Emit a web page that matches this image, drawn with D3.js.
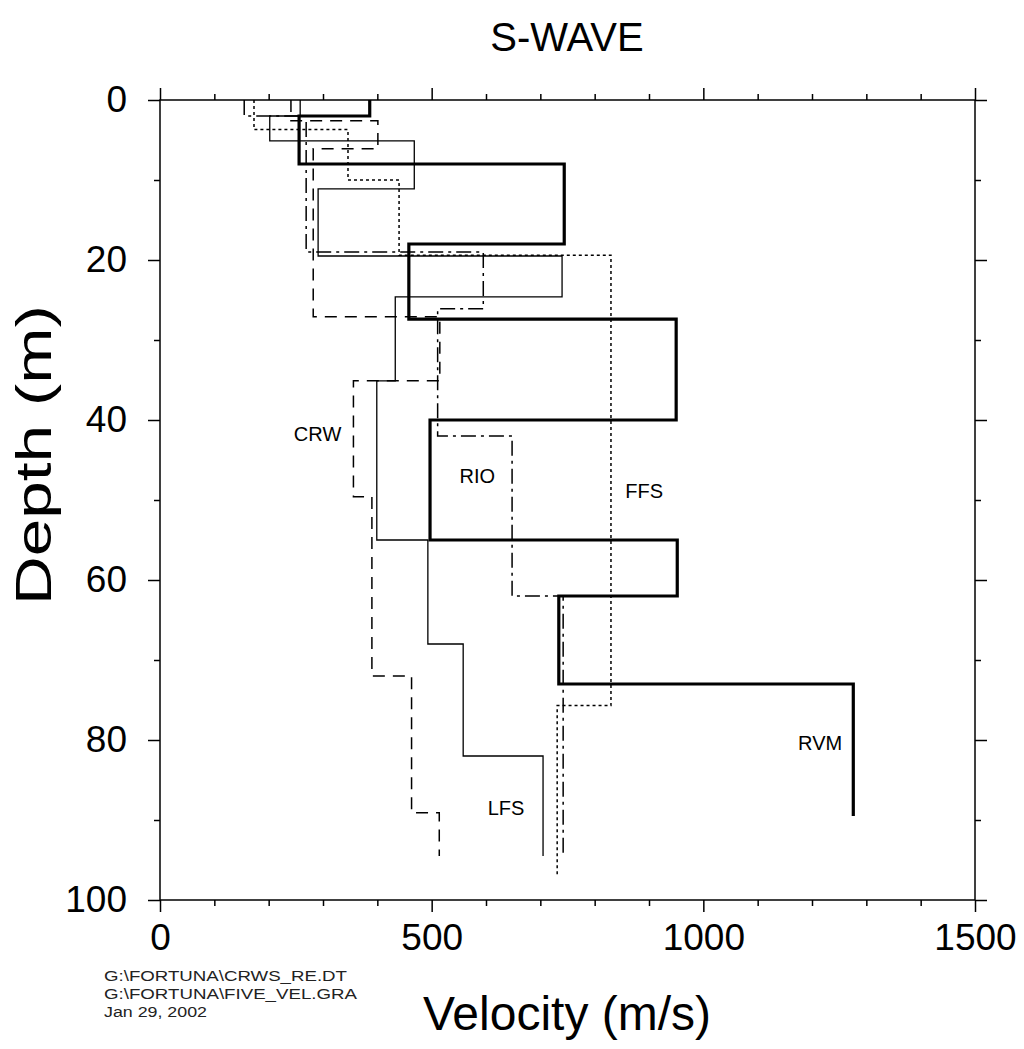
<!DOCTYPE html>
<html>
<head>
<meta charset="utf-8">
<script src="https://cdn.jsdelivr.net/npm/d3@7"></script>
<style>
  html, body { margin: 0; padding: 0; background: #fff; }
  svg { display: block; font-family: "Liberation Sans", Arial, Helvetica, sans-serif; }
</style>
</head>
<body>
<svg id="chart" width="1024" height="1049"></svg>
<script>
// ---- Data (velocity in m/s for each layer; layer boundaries in m) ----
const rvmVel    = [386, 256, 744, 458, 950, 497, 952, 734, 1276];
const rvmDepth  = [0, 2, 8, 18, 27.4, 40, 55, 62, 73, 89.5];

const lfsVel    = [258, 202, 468, 291, 740, 433, 399, 493, 558, 705];
const lfsDepth  = [0, 2, 5.1, 11.1, 19.5, 24.6, 35.1, 55, 68, 82, 94.5];

const ffsVel    = [173, 346, 440, 830, 731];
const ffsDepth  = [0, 3.7, 10, 19.4, 75.7, 97];

const rioVel    = [155, 269, 595, 511, 648, 742];
const rioDepth  = [0, 2, 19, 26.1, 42, 62, 94.5];

const crwVel    = [241, 401, 282, 515, 356, 390, 463, 514];
const crwDepth  = [0, 2.6, 6.1, 27.1, 35.1, 49.6, 72, 89.1, 94.5];

const seriesNames = ["RVM", "LFS", "FFS", "RIO", "CRW"];
const xTickMajor = [0, 500, 1000, 1500];
const yTickMajor = [0, 20, 40, 60, 80, 100];
const footnotes = ["G:\\FORTUNA\\CRWS_RE.DT", "G:\\FORTUNA\\FIVE_VEL.GRA", "Jan 29, 2002"];
const footnoteWidths = [243, 253, 103];

// label anchor positions in data units (velocity, depth)
const labelVel   = [1215, 637, 891, 584, 290];
const labelDepth = [81.25, 89.4, 49.75, 47.9, 42.6];

// ---- Layout ----
const svg = d3.select("#chart");
const x = d3.scaleLinear().domain([0, 1500]).range([160, 975]);
const y = d3.scaleLinear().domain([0, 100]).range([100, 900]);

const styles = {
  RVM: { w: 3.2, dash: null },
  LFS: { w: 1.3, dash: null },
  FFS: { w: 1.5, dash: "3,3" },
  RIO: { w: 1.5, dash: "15,5,3,5" },
  CRW: { w: 1.5, dash: "12,8" }
};

const seriesData = {
  RVM: [rvmVel, rvmDepth],
  LFS: [lfsVel, lfsDepth],
  FFS: [ffsVel, ffsDepth],
  RIO: [rioVel, rioDepth],
  CRW: [crwVel, crwDepth]
};

function stepPoints(vel, dep) {
  const pts = [];
  vel.forEach((v, i) => { pts.push([v, dep[i]]); pts.push([v, dep[i + 1]]); });
  return pts;
}

const line = d3.line().x(d => x(d[0])).y(d => y(d[1]));

// ---- Axes ----
const xMinor = d3.range(0, 1501, 100).filter(v => v % 500 !== 0);
const yMinor = d3.range(0, 101, 10).filter(v => v % 20 !== 0);

function styleAxis(g) {
  g.select(".domain").remove();
  g.selectAll("line").attr("stroke", "#000").attr("stroke-width", 1.5);
}

// bottom
svg.append("g").attr("transform", "translate(0,900)")
  .call(d3.axisBottom(x).tickValues(xMinor).tickSize(6).tickFormat(""))
  .call(styleAxis);
const bx = svg.append("g").attr("transform", "translate(0,900)")
  .call(d3.axisBottom(x).tickValues(xTickMajor).tickSize(12).tickPadding(12).tickFormat(d3.format("d")))
  .call(styleAxis);
bx.selectAll("text").attr("font-size", 37).attr("fill", "#000")
  .attr("font-family", "Liberation Sans, Arial, sans-serif");

// top
svg.append("g").attr("transform", "translate(0,100)")
  .call(d3.axisTop(x).tickValues(xMinor).tickSize(6).tickFormat(""))
  .call(styleAxis);
svg.append("g").attr("transform", "translate(0,100)")
  .call(d3.axisTop(x).tickValues(xTickMajor).tickSize(12).tickFormat(""))
  .call(styleAxis);

// left
svg.append("g").attr("transform", "translate(160,0)")
  .call(d3.axisLeft(y).tickValues(yMinor).tickSize(6).tickFormat(""))
  .call(styleAxis);
const ly = svg.append("g").attr("transform", "translate(160,0)")
  .call(d3.axisLeft(y).tickValues(yTickMajor).tickSize(12).tickPadding(21).tickFormat(d3.format("d")))
  .call(styleAxis);
ly.selectAll("text").attr("font-size", 37).attr("fill", "#000")
  .attr("font-family", "Liberation Sans, Arial, sans-serif");

// right
svg.append("g").attr("transform", "translate(975,0)")
  .call(d3.axisRight(y).tickValues(yMinor).tickSize(6).tickFormat(""))
  .call(styleAxis);
svg.append("g").attr("transform", "translate(975,0)")
  .call(d3.axisRight(y).tickValues(yTickMajor).tickSize(12).tickFormat(""))
  .call(styleAxis);

// frame
svg.append("rect")
  .attr("x", x(0)).attr("y", y(0))
  .attr("width", x(1500) - x(0)).attr("height", y(100) - y(0))
  .attr("fill", "none").attr("stroke", "#000").attr("stroke-width", 1.5);

// ---- Series ----
seriesNames.forEach(name => {
  const [vel, dep] = seriesData[name];
  const st = styles[name];
  svg.append("path")
    .datum(stepPoints(vel, dep))
    .attr("d", line)
    .attr("fill", "none")
    .attr("stroke", "#000")
    .attr("stroke-width", st.w)
    .attr("stroke-linejoin", "miter")
    .attr("stroke-dasharray", st.dash);
});

// series labels
seriesNames.forEach((name, i) => {
  svg.append("text")
    .attr("x", x(labelVel[i])).attr("y", y(labelDepth[i]))
    .attr("text-anchor", "middle")
    .attr("font-size", 20)
    .text(name);
});

// ---- Titles ----
svg.append("text").attr("x", 567).attr("y", 51)
  .attr("text-anchor", "middle").attr("font-size", 40).text("S-WAVE");

svg.append("text").attr("x", 567).attr("y", 1030)
  .attr("text-anchor", "middle").attr("font-size", 48).text("Velocity (m/s)");

svg.append("text")
  .attr("transform", "translate(51,455) rotate(-90)")
  .attr("text-anchor", "middle").attr("font-size", 50)
  .attr("textLength", 300).attr("lengthAdjust", "spacingAndGlyphs")
  .text("Depth (m)");

// footnotes
footnotes.forEach((t, i) => {
  svg.append("text").attr("x", 104).attr("y", 981 + i * 18)
    .attr("font-size", 15.5).attr("fill", "#222")
    .attr("textLength", footnoteWidths[i]).attr("lengthAdjust", "spacingAndGlyphs")
    .text(t);
});
</script>
</body>
</html>
